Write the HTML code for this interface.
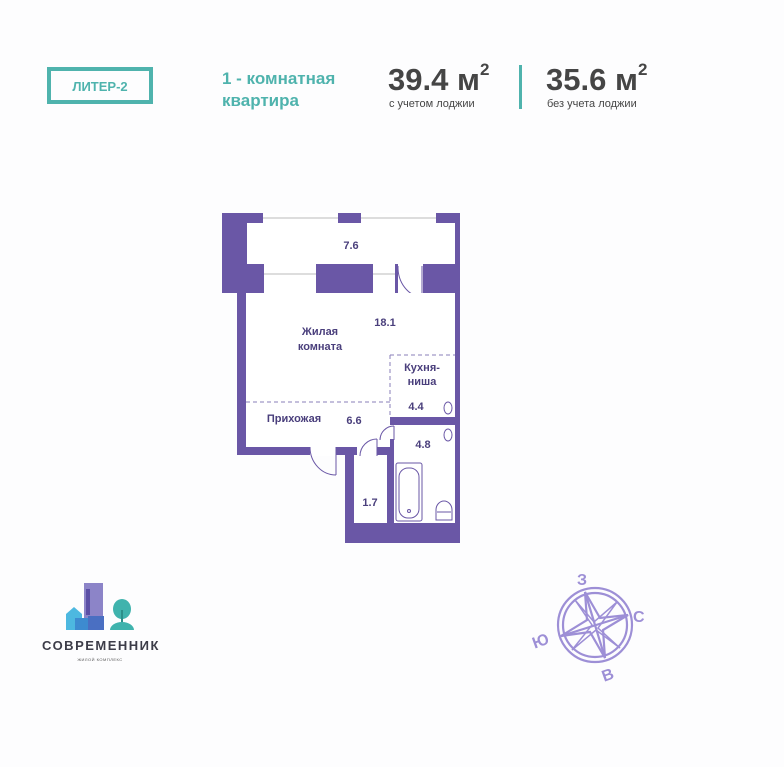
<!DOCTYPE html>
<html><head><meta charset="utf-8"><style>
body{margin:0;width:784px;height:767px;background:#fdfdfe;overflow:hidden;font-family:"Liberation Sans","DejaVu Sans",sans-serif}
</style></head><body>
<svg width="784" height="767" viewBox="0 0 784 767" xmlns="http://www.w3.org/2000/svg" style="position:absolute;left:0;top:0">
<rect x="49" y="69" width="102" height="33" fill="none" stroke="#4fb3ad" stroke-width="4"/>
<text x="100" y="91" text-anchor="middle" font-size="13" font-weight="bold" fill="#4fb3ad" font-family="Liberation Sans,sans-serif">ЛИТЕР-2</text>
<text x="222" y="84" font-size="17" font-weight="bold" fill="#4fb3ad" font-family="Liberation Sans,sans-serif">1 - комнатная</text>
<text x="222" y="106" font-size="17" font-weight="bold" fill="#4fb3ad" font-family="Liberation Sans,sans-serif">квартира</text>
<text x="388" y="90" font-size="31" font-weight="bold" fill="#454545" font-family="Liberation Sans,sans-serif">39.4 м</text>
<text x="480" y="75" font-size="17" font-weight="bold" fill="#454545" font-family="Liberation Sans,sans-serif">2</text>
<text x="389" y="107" font-size="11" fill="#454545" font-family="Liberation Sans,sans-serif">с учетом лоджии</text>
<rect x="519" y="65" width="3" height="44" fill="#4fb3ad"/>
<text x="546" y="90" font-size="31" font-weight="bold" fill="#454545" font-family="Liberation Sans,sans-serif">35.6 м</text>
<text x="638" y="75" font-size="17" font-weight="bold" fill="#454545" font-family="Liberation Sans,sans-serif">2</text>
<text x="547" y="107" font-size="11" fill="#454545" font-family="Liberation Sans,sans-serif">без учета лоджии</text>

<polygon points="222,213 460,213 460,543 345,543 345,455 237,455 237,293 222,293" fill="#6a57a6"/>
<rect x="247" y="223" width="208" height="41" fill="#fff"/>
<rect x="263" y="213" width="75" height="10" fill="#fff"/>
<rect x="361" y="213" width="75" height="10" fill="#fff"/>
<line x1="263" y1="218" x2="338" y2="218" stroke="#bbb" stroke-width="1"/>
<line x1="361" y1="218" x2="436" y2="218" stroke="#bbb" stroke-width="1"/>
<rect x="264" y="264" width="52" height="30" fill="#fff"/>
<rect x="373" y="264" width="22" height="30" fill="#fff"/>
<rect x="398" y="264" width="25" height="30" fill="#fff"/>
<line x1="264" y1="274" x2="316" y2="274" stroke="#bbb"/>
<line x1="373" y1="274" x2="395" y2="274" stroke="#bbb"/>
<line x1="422" y1="266" x2="422" y2="297" stroke="#6a57a6" stroke-width="1"/>
<path d="M398,266 A25,30 0 0 0 422,297" fill="none" stroke="#6a57a6" stroke-width="1"/>
<rect x="246" y="293" width="209" height="125" fill="#fff"/>
<rect x="246" y="418" width="144" height="29" fill="#fff"/>
<rect x="310" y="446" width="26" height="10" fill="#fff"/>
<line x1="336" y1="447" x2="336" y2="475" stroke="#6a57a6"/>
<path d="M310,447 A26,28 0 0 0 336,475" fill="none" stroke="#6a57a6"/>
<rect x="390" y="417" width="65" height="8" fill="#6a57a6"/>
<rect x="394" y="425" width="61" height="98" fill="#fff"/>
<rect x="380" y="425" width="14" height="14" fill="#fff"/>
<path d="M380,440 A14,14 0 0 1 394,426" fill="none" stroke="#6a57a6"/>
<line x1="394" y1="426" x2="394" y2="440" stroke="#6a57a6"/>
<rect x="354" y="455" width="33" height="68" fill="#fff"/>
<rect x="357" y="440" width="20" height="16" fill="#fff"/>
<path d="M360,456 A17,17 0 0 1 377,439" fill="none" stroke="#6a57a6"/>
<line x1="377" y1="439" x2="377" y2="456" stroke="#6a57a6"/>
<line x1="390" y1="355" x2="455" y2="355" stroke="#8a7fb8" stroke-dasharray="4,3"/>
<line x1="390" y1="355" x2="390" y2="417" stroke="#8a7fb8" stroke-dasharray="4,3"/>
<line x1="246" y1="402" x2="390" y2="402" stroke="#8a7fb8" stroke-dasharray="4,3"/>
<rect x="396" y="463" width="26" height="58" rx="2" fill="none" stroke="#6a57a6"/>
<rect x="399" y="468" width="20" height="50" rx="9" fill="none" stroke="#6a57a6"/>
<circle cx="409" cy="511" r="1.5" fill="none" stroke="#6a57a6"/>
<path d="M436,520 L436,510 A8,9 0 1 1 452,510 L452,520 Z" fill="none" stroke="#6a57a6"/>
<line x1="437" y1="512" x2="451" y2="512" stroke="#6a57a6"/>
<ellipse cx="448" cy="408" rx="4" ry="6" fill="none" stroke="#6a57a6"/>
<ellipse cx="448" cy="435" rx="4" ry="6" fill="none" stroke="#6a57a6"/>
<g font-family="Liberation Sans,sans-serif" font-weight="bold" font-size="11" fill="#4a3f7c">
<text x="351" y="249" text-anchor="middle">7.6</text>
<text x="385" y="326" text-anchor="middle">18.1</text>
<text x="320" y="335" text-anchor="middle">Жилая</text>
<text x="320" y="350" text-anchor="middle">комната</text>
<text x="422" y="371" text-anchor="middle">Кухня-</text>
<text x="422" y="385" text-anchor="middle">ниша</text>
<text x="416" y="410" text-anchor="middle">4.4</text>
<text x="294" y="422" text-anchor="middle">Прихожая</text>
<text x="354" y="424" text-anchor="middle">6.6</text>
<text x="423" y="448" text-anchor="middle">4.8</text>
<text x="370" y="506" text-anchor="middle">1.7</text>
</g>

<rect x="84" y="583" width="19" height="43" fill="#8c84c8"/>
<rect x="86" y="589" width="4" height="26" fill="#5b4fa6"/>
<polygon points="66,614 74,607 82,614 82,630 66,630" fill="#4db8e0"/>
<rect x="75" y="618" width="14" height="12" fill="#3d8bd0"/>
<rect x="88" y="616" width="16" height="14" fill="#4a6fc2"/>
<ellipse cx="122" cy="609" rx="9" ry="10" fill="#3fb3ad"/>
<rect x="121" y="610" width="2" height="20" fill="#2b8f8a"/>
<path d="M110,630 A12,8 0 0 1 134,630 Z" fill="#3fb3ad"/>
<text x="42" y="650" font-size="13" font-weight="bold" fill="#3c3c48" letter-spacing="1.5" font-family="Liberation Sans,sans-serif">СОВРЕМЕННИК</text>
<text x="100" y="661" text-anchor="middle" font-size="4" fill="#555" letter-spacing="0.5" font-family="Liberation Sans,sans-serif">ЖИЛОЙ КОМПЛЕКС</text>

<g stroke="#9d8fd6" fill="none" stroke-width="2.2">
<circle cx="595" cy="625" r="37"/>
<circle cx="595" cy="625" r="32"/>
<polygon points="585,592 600,618 628,615 603,630 605,658 590,632 561,636 587,620"/>
<line x1="585" y1="592" x2="605" y2="658"/>
<line x1="561" y1="636" x2="628" y2="615"/>
<polygon points="575,600 594,622 617,602 598,628 620,648 596,630 572,650 592,625" stroke-width="1.5"/>
</g>
<g font-family="Liberation Sans,sans-serif" font-size="16" font-weight="bold" fill="#9d8fd6">
<text x="577" y="585">З</text>
<text x="633" y="622">С</text>
<text x="532" y="646" transform="rotate(-20 541 640)">Ю</text>
<text x="601" y="680" transform="rotate(-20 608 672)">В</text>
</g>
</svg>
</body></html>
